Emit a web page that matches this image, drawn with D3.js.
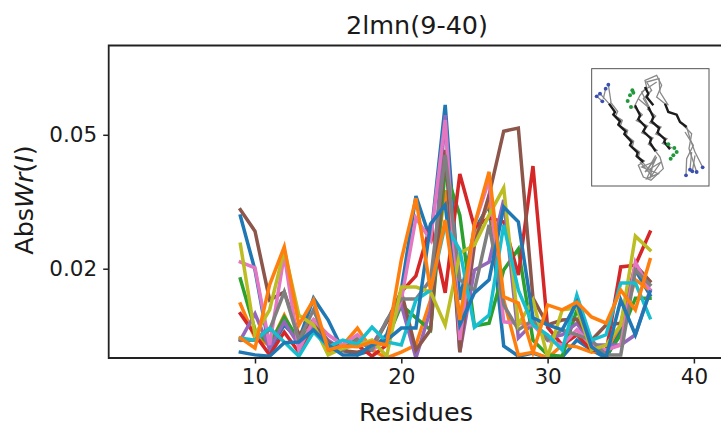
<!DOCTYPE html>
<html><head><meta charset="utf-8">
<script src="https://cdn.jsdelivr.net/npm/d3@7"></script>
<style>html,body{margin:0;padding:0;background:#fff;overflow:hidden}svg{display:block}text{font-family:"DejaVu Sans",sans-serif;fill:#1a1a1a}</style>
</head><body><svg id="c" width="721" height="428"></svg>
<script>
const residues = [9,10,11,12,13,14,15,16,17,18,19,20,21,22,23,24,25,26,27,28,29,30,31,32,33,34,35,36,37];
const s01 = [31.8,19.7,1.8,7.4,4.0,13.4,8.5,1.8,0.7,1.8,5.2,15.2,36.3,26.4,56.7,13.0,28.7,34.3,2.7,0.4,1.1,0,0.2,4.0,1.8,0,6.3,19.7,14.1];
const s02 = [12.1,4.5,2.9,9.6,2.9,8.1,1.3,2.9,6.7,1.8,0,1.3,2.9,13.0,37.6,8.5,26.4,35.4,13.0,0.7,1.3,0,2.9,2.5,1.3,1.8,7.4,17.5,15.2];
const s03 = [17.7,6.3,2.9,9.2,4.0,7.4,1.8,2.9,4.5,2.5,4.0,11.9,9.0,6.3,42.1,32.0,7.2,7.8,19.7,24.4,4.0,0.7,0.4,10.8,2.9,0.4,5.2,13.4,13.4];
const s04 = [9.9,5.2,0.7,5.8,1.3,6.3,2.9,2.7,2.9,0.4,2.9,14.8,18.4,29.8,14.6,41.2,29.3,31.4,30.5,18.6,43.0,6.9,2.9,5.2,1.8,1.3,20.4,20.8,28.2];
const s05 = [4.0,9.9,2.2,8.1,2.9,7.4,4.0,1.8,4.0,2.9,8.1,11.9,0,10.8,54.4,1.3,19.7,21.5,35.4,4.5,7.8,4.5,5.2,7.8,2.9,2.9,2.9,5.2,15.2];
const s06 = [33.2,28.4,13.0,14.8,5.2,8.5,3.6,1.6,1.3,2.2,8.1,14.8,1.8,6.3,46.6,1.3,25.3,36.5,50.8,51.5,13.4,7.4,8.5,8.7,4.0,7.4,7.8,20.8,17.2];
const s07 = [21.5,20.2,2.9,23.1,1.8,8.5,5.2,2.9,5.2,1.8,4.0,13.0,31.4,26.4,53.3,4.0,29.8,39.9,8.1,7.8,7.4,4.0,2.9,6.3,2.9,1.8,2.9,21.5,15.2];
const s08 = [4.0,4.0,6.3,14.8,4.0,10.8,2.9,1.8,4.0,1.8,8.5,13.2,13.2,17.5,45.5,17.5,15.2,29.8,11.9,6.3,8.5,4.0,6.3,5.2,4.0,0.7,0.7,19.7,16.4];
const s09 = [25.5,5.2,10.8,24.2,9.6,7.4,0.7,2.2,2.9,4.0,0.4,15.9,15.9,14.8,7.4,23.5,25.3,32.0,38.1,7.4,13.0,0.2,10.8,11.2,1.8,2.9,7.4,27.3,24.2];
const s10 = [4.5,4.0,6.7,3.6,0.4,5.8,2.5,4.0,3.1,6.9,3.6,2.9,13.0,15.2,29.8,24.2,6.9,9.6,29.8,15.2,7.4,5.2,1.8,14.1,4.0,5.2,16.8,16.8,9.0];
const s11 = [1.3,0.7,0.4,3.4,3.6,6.3,2.9,0.7,0.7,2.9,4.0,6.7,6.7,30.0,34.3,7.4,14.6,17.5,33.8,30.5,9.0,7.4,6.3,12.5,2.5,0.2,13.0,5.2,14.8];
const s12 = [4.5,2.2,16.4,24.9,7.4,13.0,1.8,2.7,2.5,3.6,2.9,22.0,35.8,15.2,30.9,8.5,29.8,41.7,13.7,12.3,1.3,11.9,10.8,12.5,9.2,7.8,15.2,10.8,22.0];
const allSeries = [s01,s02,s03,s04,s05,s06,s07,s08,s09,s10,s11,s12];
const palette = ["#1f77b4","#ff7f0e","#2ca02c","#d62728","#9467bd","#8c564b","#e377c2","#7f7f7f","#bcbd22","#17becf"];
const xTicks = [10,20,30,40];
const yTicks = [0.02,0.05];
const titleText = "2lmn(9-40)";
const xLabel = "Residues";

// inset molecule, in a 0-390 picture space
const strandsDark = [
 [[72,125],[90,150],[85,158],[105,178],[100,188],[122,208],[118,216],[140,240],[135,250],[158,272],[155,282],[175,300]],
 [[150,130],[165,160],[160,172],[182,195],[175,208],[198,230],[195,242],[212,268]],
 [[190,135],[205,165],[200,178],[222,198],[218,212],[240,232],[238,240],[255,262]],
 [[180,75],[190,95],[185,105],[205,130]],
 [[240,125],[250,150],[275,158],[285,180],[305,195]]
];
const strandsGray = [
 [[52,118],[35,103],[45,95],[72,125]],[[62,80],[55,110]],[[70,68],[78,120]],
 [[76,120],[98,148],[92,162],[112,175],[106,192],[128,205],[124,220],[146,238],[142,254],[164,270],[160,286],[180,298]],
 [[146,134],[172,158],[154,176],[188,192],[170,212],[204,228],[190,246],[218,266]],
 [[186,140],[212,162],[194,182],[228,195],[212,216],[246,230],[232,244],[262,258]],
 [[150,130],[165,100],[185,75],[180,55],[215,40],[230,70],[215,105],[240,125]],
 [[190,135],[175,110],[200,85],[185,60],[222,50],[225,90],[250,130]],
 [[160,110],[195,140],[170,90],[215,60]],
 [[305,195],[315,230],[330,270],[353,316]],[[295,190],[320,215],[312,260],[335,330]],[[300,210],[325,250],[305,290],[303,340]],[[320,270],[315,323]],[[330,280],[322,328]],
 [[175,300],[160,310],[175,345],[198,355],[235,320],[225,285],[212,268]],
 [[165,300],[200,340],[228,300],[180,330],[215,285],[185,350],[220,335],[170,315],[205,300],[195,350]],
 [[155,282],[190,320],[212,280]]
];
const atomsBlue = [[35,103],[45,95],[62,80],[70,68],[52,118],[303,340],[315,323],[322,328],[335,330],[353,316]];
const atomsGreen = [[142,85],[135,100],[128,117],[138,135],[145,92],[250,247],[268,258],[275,270],[265,280],[257,290]];

const svg = d3.select("#c");
const L=108.7, T=45.5, B=358;
const x = d3.scaleLinear().domain([0,43]).range([L, L+43*14.63]);
const y = d3.scaleLinear().domain([0,0.07]).range([B,T]);
svg.append("defs").append("clipPath").attr("id","clip").append("rect")
  .attr("x",L).attr("y",T).attr("width",640).attr("height",B-T);

const line = d3.line().x((d,i)=>x(residues[i])).y(d=>y(d/1000));
svg.append("g").attr("clip-path","url(#clip)").selectAll("path").data(allSeries).join("path")
  .attr("d",line).attr("fill","none").attr("stroke-width",3.5)
  .attr("stroke-linejoin","miter").attr("stroke-linecap","square")
  .attr("stroke",(d,i)=>palette[i%palette.length]);

const ax = svg.append("g").attr("transform",`translate(0,${B})`)
  .call(d3.axisBottom(x).tickValues(xTicks).tickSize(5.5).tickPadding(5).tickFormat(d3.format("d")));
const ay = svg.append("g").attr("transform",`translate(${L},0)`)
  .call(d3.axisLeft(y).tickValues(yTicks).tickSize(5.5).tickPadding(6).tickFormat(d3.format(".2f")));
[ax,ay].forEach(g=>{g.select(".domain").remove();
  g.selectAll("line").attr("stroke","#222").attr("stroke-width",1.5);
  g.selectAll("text").attr("font-size",21.5).style("font-family",'"DejaVu Sans"').attr("fill","#1a1a1a");});

svg.append("path").attr("d",`M${L},${T}H760V${B}H${L}Z`).attr("fill","none").attr("stroke","#222").attr("stroke-width",1.8);

svg.append("text").attr("x",417).attr("y",34).attr("text-anchor","middle").attr("font-size",25.5).text(titleText);
svg.append("text").attr("x",416).attr("y",421).attr("text-anchor","middle").attr("font-size",25.5).text(xLabel);
const yl = svg.append("text").attr("transform","translate(33,200) rotate(-90)").attr("text-anchor","middle").attr("font-size",25.5);
yl.append("tspan").text("Abs");
yl.append("tspan").attr("font-style","italic").text("Wr");
yl.append("tspan").text("(");
yl.append("tspan").attr("font-style","italic").text("I");
yl.append("tspan").text(")");

// inset
const ix = d3.scaleLinear().domain([0,390]).range([585,715]);
const iy = d3.scaleLinear().domain([0,390]).range([62,192]);
const inset = svg.append("g");
inset.append("rect").attr("x",ix(20)).attr("y",iy(20)).attr("width",ix(372)-ix(20)).attr("height",iy(372)-iy(20))
  .attr("fill","#fff").attr("stroke","#555").attr("stroke-width",1);
const il = d3.line().x(d=>ix(d[0])).y(d=>iy(d[1]));
inset.selectAll(".g").data(strandsGray).join("path").attr("class","g").attr("d",il).attr("fill","none").attr("stroke","#888").attr("stroke-width",1.3);
inset.selectAll(".d").data(strandsDark).join("path").attr("class","d").attr("d",il).attr("fill","none").attr("stroke","#1c1c1c").attr("stroke-width",2.4);
inset.selectAll(".b").data(atomsBlue).join("circle").attr("class","b").attr("cx",d=>ix(d[0])).attr("cy",d=>iy(d[1])).attr("r",1.9).attr("fill","#3a4fb0");
inset.selectAll(".n").data(atomsGreen).join("circle").attr("class","n").attr("cx",d=>ix(d[0])).attr("cy",d=>iy(d[1])).attr("r",2).attr("fill","#1f9a3a");
</script></body></html>
